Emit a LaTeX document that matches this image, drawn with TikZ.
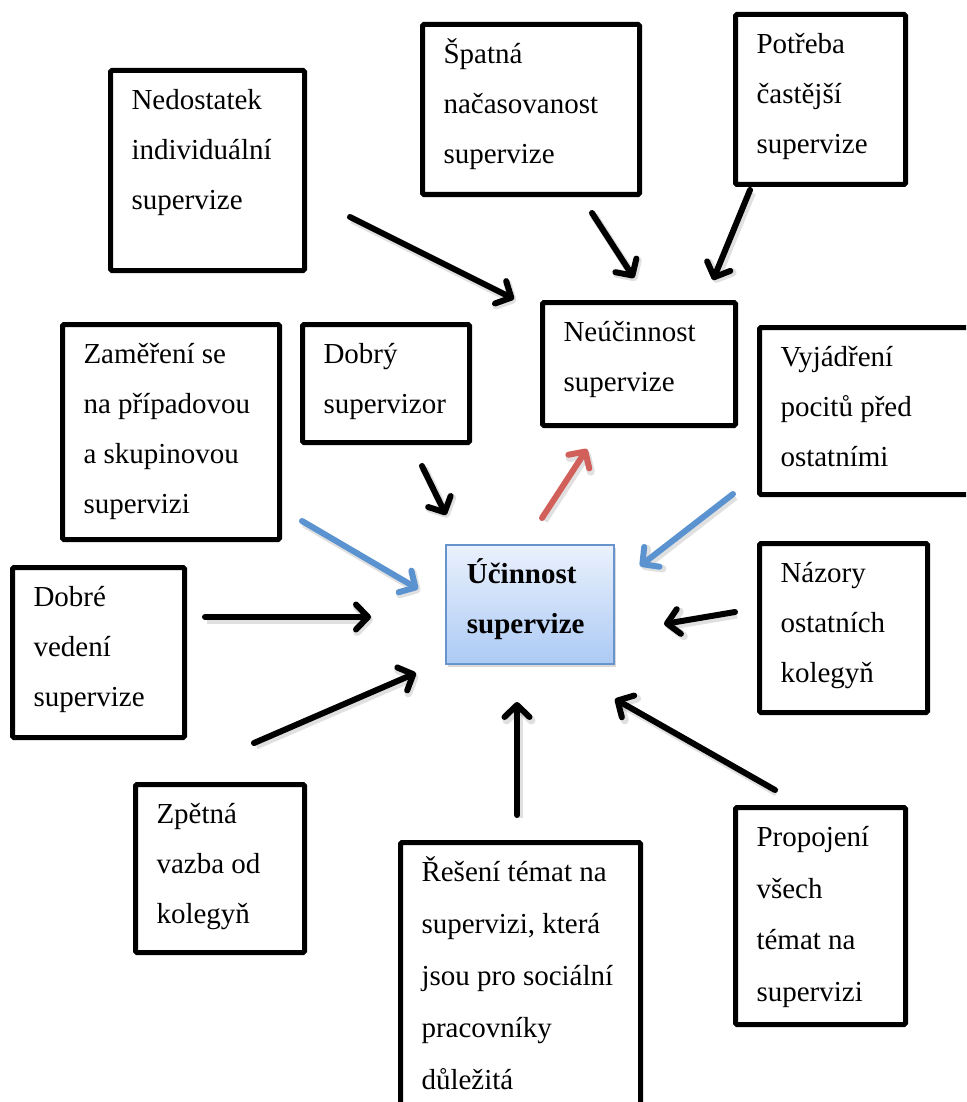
\documentclass[tikz,border=0pt]{standalone}
\usepackage{fontspec}
\setmainfont{Liberation Serif}
\usetikzlibrary{arrows.meta,shadows}

\definecolor{flowblue}{RGB}{91,146,208}
\definecolor{flowred}{RGB}{210,96,90}
\definecolor{shadetop}{RGB}{234,241,253}
\definecolor{shadebot}{RGB}{172,202,244}
\definecolor{rimblue}{RGB}{104,148,206}

% top-aligned text block of given width and height
\newcommand{\boxtext}[3]{\parbox[c][#2][t]{#1}{\raggedright\rule{0pt}{39pt}#3}}

\tikzset{
  box/.style={draw=black, line width=5pt, rounded corners=1.5pt, anchor=north west,
    inner xsep=21pt, inner ysep=0pt, font=\fontsize{29}{50}\selectfont},
  widebox/.style={box, font=\fontsize{29}{52}\selectfont},
  mainbox/.style={draw=rimblue, line width=1.8pt, anchor=north west,
    inner xsep=21pt, inner ysep=0pt, top color=shadetop, bottom color=shadebot,
    drop shadow={shadow xshift=2.5pt, shadow yshift=-3pt, opacity=0.3},
    font=\fontsize{29}{50}\selectfont\bfseries},
  arrowline/.style={line width=6pt, line cap=round,
    -{Straight Barb[length=12pt,width=25pt,round]},
    preaction={draw=black, draw opacity=0.12, line width=8pt,
      transform canvas={shift={(2pt,-2.5pt)}}}},
  plain/.style={arrowline, draw=black},
  pro/.style={arrowline, draw=flowblue},
  contra/.style={arrowline, draw=flowred},
}

\begin{document}
\begin{tikzpicture}[x=1pt, y=-1pt]
\useasboundingbox (0,0) rectangle (966,1102);
\clip (0,0) rectangle (966,1102);

% boxes
\node[box] (nedo) at (108,68)  {\boxtext{152pt}{200pt}{Nedostatek\\individuální\\supervize}};
\node[box] (spat) at (420,22)  {\boxtext{175pt}{170pt}{Špatná\\načasovanost\\supervize}};
\node[box] (potr) at (733,12)  {\boxtext{128pt}{170pt}{Potřeba\\častější\\supervize}};
\node[box] (neuc) at (540,300) {\boxtext{151pt}{123pt}{Neúčinnost\\supervize}};
\node[box] (zame) at (60,322)  {\boxtext{175pt}{215pt}{Zaměření se\\na případovou\\a skupinovou\\supervizi}};
\node[box] (dobs) at (300,322) {\boxtext{125pt}{118pt}{Dobrý\\supervizor}};
\node[box] (vyja) at (757,325) {\boxtext{198pt}{167pt}{Vyjádření\\pocitů před\\ostatními}};
\node[box] (dobv) at (10,565)  {\boxtext{130pt}{170pt}{Dobré\\vedení\\supervize}};
\node[mainbox] (ucin) at (445,544) {\boxtext{126pt}{119pt}{Účinnost\\supervize}};
\node[box] (nazo) at (757,541) {\boxtext{126pt}{169pt}{Názory\\ostatních\\kolegyň}};
\node[box] (zpet) at (133,782) {\boxtext{127pt}{168pt}{Zpětná\\vazba od\\kolegyň}};
\node[widebox] (rese) at (398,840) {\boxtext{198pt}{300pt}{Řešení témat na\\supervizi, která\\jsou pro sociální\\pracovníky\\důležitá}};
\node[box, font=\fontsize{29}{51.5}\selectfont] (prop) at (733,805) {\boxtext{128pt}{217pt}{Propojení\\všech\\témat na\\supervizi}};

% arrow ends
\coordinate (nedo-o) at (350,217);  \coordinate (neuc-i1) at (514,299);
\coordinate (spat-o) at (592,213);  \coordinate (neuc-i2) at (634,278);
\coordinate (potr-o) at (750,190);  \coordinate (neuc-i3) at (713,280);
\coordinate (ucin-o) at (542,518);  \coordinate (neuc-i4) at (587,449);
\coordinate (zame-o) at (302,521);  \coordinate (ucin-i1) at (418,589);
\coordinate (dobs-o) at (422,466);  \coordinate (ucin-i2) at (446,515);
\coordinate (vyja-o) at (733,494);  \coordinate (ucin-i3) at (640,566);
\coordinate (dobv-o) at (205,617);  \coordinate (ucin-i4) at (371,617);
\coordinate (nazo-o) at (735,612);  \coordinate (ucin-i5) at (664,624);
\coordinate (zpet-o) at (254,743);  \coordinate (ucin-i6) at (416,673);
\coordinate (rese-o) at (517,815);  \coordinate (ucin-i7) at (517,702);
\coordinate (prop-o) at (775,790);  \coordinate (ucin-i8) at (615,699);

% arrows
\draw[plain]  (nedo-o) -- (neuc-i1);
\draw[plain]  (spat-o) -- (neuc-i2);
\draw[plain]  (potr-o) -- (neuc-i3);
\draw[contra] (ucin-o) -- (neuc-i4);
\draw[pro]    (zame-o) -- (ucin-i1);
\draw[plain]  (dobs-o) -- (ucin-i2);
\draw[pro]    (vyja-o) -- (ucin-i3);
\draw[plain]  (dobv-o) -- (ucin-i4);
\draw[plain]  (nazo-o) -- (ucin-i5);
\draw[plain]  (zpet-o) -- (ucin-i6);
\draw[plain]  (rese-o) -- (ucin-i7);
\draw[plain]  (prop-o) -- (ucin-i8);
\end{tikzpicture}
\end{document}
